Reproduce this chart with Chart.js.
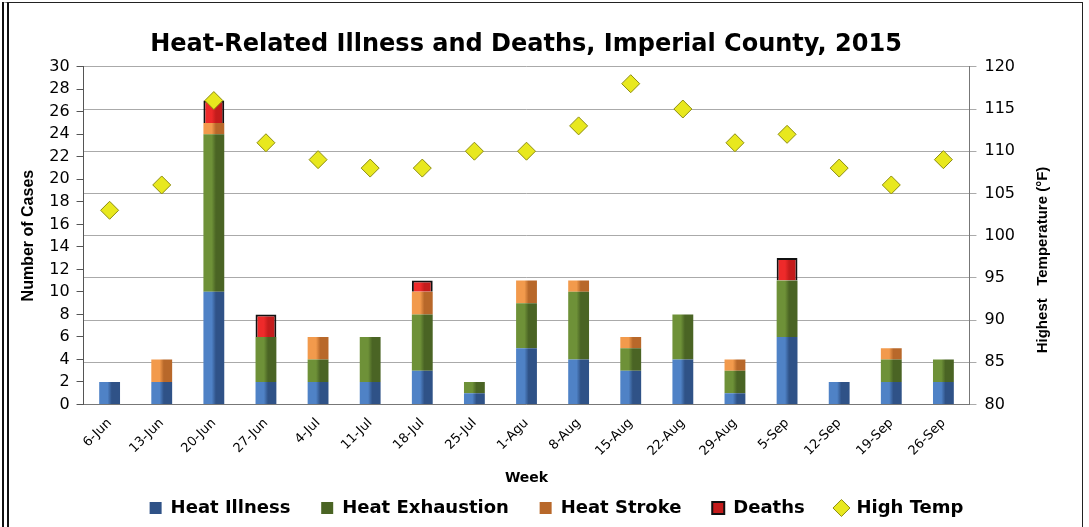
<!DOCTYPE html>
<html>
<head>
<meta charset="utf-8">
<script src="https://cdn.jsdelivr.net/npm/chart.js@4"></script>
<style>
  html, body { margin: 0; padding: 0; background: #fff; overflow: hidden; }
  #wrap { position: relative; width: 1089px; height: 527px; overflow: hidden; }
  #frame {
    position: absolute; left: 2px; top: 2px; width: 1073px; height: 540px;
    border: 1px solid #222; border-left: 7px double #111; pointer-events: none;
  }
</style>
</head>
<body>
<div id="wrap">
  <canvas id="myChart" width="1089" height="527"></canvas>
  <div id="frame"></div>
</div>
<script>
const weeks = ['6-Jun', '13-Jun', '20-Jun', '27-Jun', '4-Jul', '11-Jul', '18-Jul', '25-Jul', '1-Agu',
    '8-Aug', '15-Aug', '22-Aug', '29-Aug', '5-Sep', '12-Sep', '19-Sep', '26-Sep'];
const heatIllness    = [2, 2, 10, 2, 2, 2, 3, 1, 5, 4, 3, 4, 1, 6, 2, 2, 2];
const heatExhaustion = [0, 0, 14, 4, 2, 4, 5, 1, 4, 6, 2, 4, 2, 5, 0, 2, 2];
const heatStroke     = [0, 2, 1, 0, 2, 0, 2, 0, 2, 1, 1, 0, 1, 0, 0, 1, 0];
const deaths         = [0, 0, 2, 2, 0, 0, 1, 0, 0, 0, 0, 0, 0, 2, 0, 0, 0];
const highTemp       = [103, 106, 116, 111, 109, 108, 108, 110, 110, 113, 118, 115, 111, 112, 108, 106, 109];

const FONT = 'DejaVu Sans';

// bars look bevelled: light left edge, dark right edge
function bevel(light, dark) {
    return (ctx) => {
        const el = ctx.element;
        if (!el || el.width == null || isNaN(el.x)) return dark;
        const g = ctx.chart.ctx.createLinearGradient(el.x - el.width / 2, 0, el.x + el.width / 2, 0);
        g.addColorStop(0, light);
        g.addColorStop(0.4, light);
        g.addColorStop(0.6, dark);
        g.addColorStop(1, dark);
        return g;
    };
}

// right axis title reads bottom-to-top in the original
const rightTitle = {
    id: 'rightTitle',
    afterDraw(chart) {
        const c = chart.ctx;
        c.save();
        c.translate(1043, 260);
        c.rotate(-Math.PI / 2);
        c.font = 'bold 15px "Liberation Sans"';
        c.fillStyle = '#000';
        c.textAlign = 'center';
        c.textBaseline = 'middle';
        c.fillText('Highest   Temperature (°F)', 0, 0);
        c.restore();
    }
};

// legend and title sit a little right of centre in the original
const nudge = {
    id: 'nudge',
    afterLayout(chart) {
        chart.legend.left += 30; chart.legend.right += 30;
        chart.titleBlock.left += 7; chart.titleBlock.right += 7;
    }
};

const barOpts = { barPercentage: 0.4, categoryPercentage: 1.0, yAxisID: 'y', order: 1, pointStyle: 'rect' };

const data = {
    labels: weeks,
    datasets: [
        { ...barOpts, label: 'Heat Illness', data: heatIllness,
          backgroundColor: bevel('#4f82c6', '#2f5287'), borderWidth: 0 },
        { ...barOpts, label: 'Heat Exhaustion', data: heatExhaustion,
          backgroundColor: bevel('#6e9138', '#4a6424'), borderWidth: 0 },
        { ...barOpts, label: 'Heat Stroke', data: heatStroke,
          backgroundColor: bevel('#f29a4c', '#b8682a'), borderWidth: 0 },
        { ...barOpts, label: 'Deaths', data: deaths,
          backgroundColor: bevel('#ee2a2a', '#c41c1c'), borderColor: '#111', borderWidth: 2 },
        {
            type: 'line', label: 'High Temp', data: highTemp, yAxisID: 'y1', order: 0,
            showLine: false, pointStyle: 'rectRot', pointRadius: 9, pointHoverRadius: 9,
            backgroundColor: '#e8e81e', borderColor: '#8c8c10', pointBorderWidth: 1
        }
    ]
};
const lastIndex = data.datasets.length - 1;

const config = {
    type: 'bar',
    data: data,
    plugins: [rightTitle, nudge],
    options: {
        responsive: false,
        animation: false,
        layout: { padding: { left: 15, right: 66, top: 0, bottom: 0 } },
        plugins: {
            title: {
                display: true,
                text: 'Heat-Related Illness and Deaths, Imperial County, 2015',
                color: '#000',
                font: { family: FONT, size: 24, weight: 'bold' },
                padding: { top: 30, bottom: 8 }
            },
            legend: {
                position: 'bottom',
                fullSize: false,
                labels: {
                    color: '#000',
                    font: { family: FONT, size: 18, weight: 'bold' },
                    usePointStyle: true,
                    boxWidth: 12, boxHeight: 12,
                    padding: 12,
                    sort: (a, b) => a.datasetIndex - b.datasetIndex,
                    generateLabels: (chart) => Chart.defaults.plugins.legend.labels.generateLabels(chart)
                        .map(l => ({ ...l, text: l.datasetIndex < lastIndex ? l.text + '   ' : l.text }))
                }
            },
            tooltip: { enabled: false }
        },
        scales: {
            x: {
                stacked: true,
                grid: { display: false },
                border: { color: '#777' },
                ticks: { color: '#000', maxRotation: 45, minRotation: 45, font: { family: FONT, size: 13 } },
                title: { display: true, text: 'Week', color: '#000', font: { family: FONT, size: 14, weight: 'bold' },
                         padding: { top: 8, bottom: 0 } }
            },
            y: {
                stacked: true,
                position: 'left',
                min: 0, max: 30,
                ticks: { stepSize: 2, autoSkip: false, padding: 7, color: '#000', font: { family: FONT, size: 16 } },
                grid: { drawOnChartArea: false, color: '#555', tickLength: 7 },
                border: { color: '#555' },
                title: { display: true, text: 'Number of Cases', color: '#000',
                         font: { family: 'Liberation Sans', size: 16, weight: 'bold' } }
            },
            y1: {
                position: 'right',
                min: 80, max: 120,
                ticks: { stepSize: 5, autoSkip: false, padding: 8, color: '#000', font: { family: FONT, size: 16 } },
                grid: { color: '#aaa', tickLength: 7 },
                border: { color: '#777' }
            }
        }
    }
};

const myChart = new Chart(document.getElementById('myChart'), config);
myChart.update();
</script>
</body>
</html>
